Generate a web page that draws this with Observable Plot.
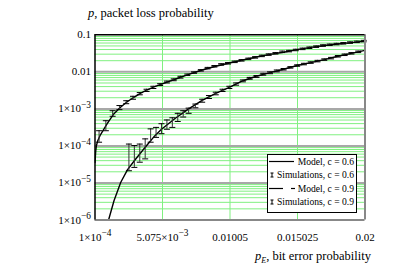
<!DOCTYPE html>
<html><head><meta charset="utf-8">
<script src="https://cdn.jsdelivr.net/npm/d3@7"></script>
<script src="https://cdn.jsdelivr.net/npm/@observablehq/plot@0.6"></script>
<style>body{margin:0;background:#fff} svg{display:block} svg text{font-family:'Liberation Serif','DejaVu Serif',serif !important}</style>
</head><body><div id="chart"></div>
<script>
const xTicks = [0.0001, 0.005075, 0.01005, 0.015025, 0.02];
const xTickLabels = ["1×10^−4", "5.075×10^−3", "0.01005", "0.015025", "0.02"];
const yTicks = [1e-6, 1e-5, 1e-4, 1e-3, 0.01, 0.1];
const yTickLabels = ["1×10^−6", "1×10^−5", "1×10^−4", "1×10^−3", "0.01", "0.1"];

// Model, c = 0.6 (log10 p)
const modelPE06 = [0.0001,0.00015,0.0002,0.0003,0.0005,0.001,0.0015,0.002,0.0025,0.003,0.0035,0.004,0.0045,0.005,0.006,0.007,0.008,0.009,0.010,0.011,0.012,0.013,0.014,0.015,0.016,0.017,0.018,0.019,0.020];
const modelLog06 = [-4.45,-4.15,-4.00,-3.86,-3.70,-3.40,-3.13,-2.95,-2.80,-2.68,-2.57,-2.48,-2.40,-2.33,-2.20,-2.07,-1.95,-1.85,-1.76,-1.68,-1.60,-1.53,-1.47,-1.40,-1.34,-1.29,-1.25,-1.21,-1.17];

// Model, c = 0.9 (log10 p)
const modelPE09 = [0.00095,0.0011,0.0015,0.002,0.0025,0.003,0.0035,0.004,0.0045,0.005,0.006,0.007,0.008,0.009,0.010,0.011,0.012,0.013,0.014,0.015,0.016,0.017,0.018,0.019,0.020];
const modelLog09 = [-6.25,-6.00,-5.48,-4.98,-4.64,-4.40,-4.17,-3.95,-3.73,-3.55,-3.26,-3.00,-2.77,-2.58,-2.42,-2.24,-2.12,-2.02,-1.93,-1.83,-1.75,-1.67,-1.58,-1.50,-1.42];

// Simulations, c = 0.6 (log10 bounds)
const simPE06 = [0.0004,0.0009,0.0014,0.0019,0.0024,0.0029,0.0034,0.0039,0.0044,0.0049,0.0054,0.0059,0.0064,0.0069,0.0074,0.0079,0.0084,0.0089,0.0094,0.0099,0.0104,0.0109,0.0114,0.0119,0.0124,0.0129,0.0134,0.0139,0.0144,0.0149,0.0154,0.0159,0.0164,0.0169,0.0174,0.0179,0.0184,0.0189,0.0194,0.0199];
const simLo06 = [-3.90,-3.59,-3.20,-3.02,-2.86,-2.74,-2.62,-2.53,-2.45,-2.37,-2.30,-2.24,-2.17,-2.10,-2.04,-1.98,-1.92,-1.87,-1.82,-1.79,-1.75,-1.71,-1.67,-1.63,-1.59,-1.555,-1.52,-1.48,-1.46,-1.43,-1.40,-1.37,-1.34,-1.31,-1.29,-1.27,-1.25,-1.23,-1.21,-1.19];
const simHi06 = [-3.59,-3.32,-3.05,-2.91,-2.78,-2.66,-2.56,-2.47,-2.39,-2.32,-2.25,-2.19,-2.12,-2.06,-2.00,-1.94,-1.88,-1.83,-1.78,-1.75,-1.71,-1.67,-1.63,-1.59,-1.55,-1.515,-1.48,-1.44,-1.42,-1.39,-1.36,-1.33,-1.30,-1.27,-1.25,-1.23,-1.21,-1.19,-1.17,-1.15];

// Simulations, c = 0.9 (log10 bounds)
const simPE09 = [0.0026,0.0030,0.0034,0.0038,0.0042,0.0046,0.0050,0.0054,0.0058,0.0062,0.0066,0.0070,0.0075,0.0080,0.0085,0.0090,0.0095,0.0100,0.0105,0.0110,0.0115,0.0120,0.0125,0.0130,0.0135,0.0140,0.0145,0.0150,0.0155,0.0160,0.0165,0.0170,0.0175,0.0180,0.0185,0.0190,0.0195];
const simLo09 = [-4.67,-4.58,-4.44,-4.35,-3.90,-3.77,-3.67,-3.55,-3.50,-3.34,-3.22,-3.12,-2.97,-2.82,-2.72,-2.62,-2.53,-2.45,-2.36,-2.27,-2.20,-2.15,-2.09,-2.05,-2.00,-1.95,-1.90,-1.85,-1.81,-1.77,-1.73,-1.69,-1.65,-1.60,-1.56,-1.52,-1.48];
const simHi09 = [-3.95,-3.99,-3.95,-3.81,-3.54,-3.50,-3.40,-3.30,-3.24,-3.12,-3.05,-2.98,-2.87,-2.74,-2.64,-2.55,-2.47,-2.39,-2.30,-2.22,-2.15,-2.10,-2.04,-2.00,-1.95,-1.91,-1.86,-1.81,-1.77,-1.73,-1.69,-1.65,-1.61,-1.56,-1.52,-1.48,-1.44];

const model06 = modelPE06.map((x, i) => ({x, y: 10 ** modelLog06[i]}));
const model09 = modelPE09.map((x, i) => ({x, y: 10 ** modelLog09[i]}));
const sim06 = simPE06.map((x, i) => ({x, lo: 10 ** simLo06[i], hi: 10 ** simHi06[i]}));
const sim09 = simPE09.map((x, i) => ({x, lo: 10 ** simLo09[i], hi: 10 ** simHi09[i]}));

const minorY = [];
for (const d of yTicks.slice(0, -1)) for (let m = 2; m <= 9; m++) minorY.push(d * m);

const capSymbol = {draw(ctx, size) { const h = Math.sqrt(size / Math.PI); ctx.moveTo(-h, 0); ctx.lineTo(h, 0); }};

const xLab = new Map(xTicks.map((d, i) => [d, xTickLabels[i]]));
const yLab = new Map(yTicks.map((d, i) => [d, yTickLabels[i]]));

const FONT = "'Liberation Serif', 'DejaVu Serif', serif";
const green = "#80f080";

const errMarks = (data) => [
  Plot.ruleX(data, {x: "x", y1: "lo", y2: "hi", stroke: "#333", strokeWidth: 1}),
  Plot.dot(data, {x: "x", y: "lo", symbol: capSymbol, r: 3, stroke: "#000", strokeWidth: 1, fill: "none"}),
  Plot.dot(data, {x: "x", y: "hi", symbol: capSymbol, r: 3, stroke: "#000", strokeWidth: 1, fill: "none"})
];

const chart = Plot.plot({
  width: 415, height: 273,
  marginLeft: 94.5, marginRight: 50.5, marginTop: 34.3, marginBottom: 53.5,
  style: {fontFamily: FONT, background: "#fff"},
  x: {domain: [0.0001, 0.02], label: null},
  y: {type: "log", domain: [1e-6, 0.1], label: null},
  marks: [
    Plot.ruleY(minorY, {stroke: green, strokeWidth: 1}),
    Plot.ruleX(xTicks.slice(1, -1), {stroke: green, strokeWidth: 1}),
    Plot.ruleY(yTicks.slice(1, -1), {stroke: "#a8a8a8", strokeWidth: 2}),
    Plot.line(model06, {x: "x", y: "y", stroke: "#000", strokeWidth: 1.4, clip: true}),
    Plot.line(model09, {x: "x", y: "y", stroke: "#000", strokeWidth: 1.4, clip: true}),
    ...errMarks(sim06),
    ...errMarks(sim09),
    Plot.ruleY([1e-6], {stroke: "#888", strokeWidth: 2}),
    Plot.ruleX([0.02], {stroke: "#888", strokeWidth: 2}),
    Plot.ruleY([0.1], {stroke: "#000", strokeWidth: 1.5}),
    Plot.ruleX([0.0001], {stroke: "#000", strokeWidth: 1.5}),
    Plot.axisX({ticks: xTicks, tickFormat: d => xLab.get(d), tickSize: 0, tickPadding: 13, fontSize: 11, fill: "#000"}),
    Plot.axisY({ticks: yTicks, tickFormat: d => yLab.get(d), tickSize: 0, tickPadding: 4, fontSize: 11, fill: "#000"})
  ]
});

document.getElementById("chart").appendChild(chart);
const NS = "http://www.w3.org/2000/svg";
chart.querySelectorAll("text").forEach(t => {
  const s = t.textContent;
  if (s.includes("^")) {
    const [b, e] = s.split("^");
    t.textContent = b;
    const ts = document.createElementNS(NS, "tspan");
    ts.setAttribute("dy", "-0.5em");
    ts.setAttribute("font-size", "0.85em");
    ts.textContent = e;
    t.appendChild(ts);
  }
});

const svg = d3.select(chart);
// titles
const t1 = svg.append("text").attr("x", 88).attr("y", 17).attr("text-anchor", "start").attr("font-size", 12.5).attr("fill", "#000");
t1.append("tspan").attr("font-style", "italic").text("p");
t1.append("tspan").text(", packet loss probability");
const t2 = svg.append("text").attr("x", 255).attr("y", 260).attr("text-anchor", "start").attr("font-size", 12.5).attr("fill", "#000");
t2.append("tspan").attr("font-style", "italic").text("p");
t2.append("tspan").attr("font-size", 8).attr("font-style", "italic").attr("dy", 2.5).text("E");
t2.append("tspan").attr("dy", -2.5).text(", bit error probability");

// legend
const lg = svg.append("g").attr("font-size", 9.6);
lg.append("rect").attr("x", 267.5).attr("y", 154.5).attr("width", 89).attr("height", 58).attr("fill", "#fff").attr("stroke", "#000").attr("stroke-width", 1);
const rows = [
  {label: "Model, c = 0.6", kind: "solid", y: 161.5},
  {label: "Simulations, c = 0.6", kind: "err", y: 175},
  {label: "Model, c = 0.9", kind: "dash", y: 188.5},
  {label: "Simulations, c = 0.9", kind: "err", y: 202}
];
for (const r of rows) {
  lg.append("text").attr("x", 354).attr("y", r.y).attr("dy", "0.35em").attr("text-anchor", "end").attr("fill", "#000").text(r.label);
  if (r.kind === "solid") {
    lg.append("line").attr("x1", 269).attr("x2", 294).attr("y1", r.y).attr("y2", r.y).attr("stroke", "#000").attr("stroke-width", 1.2);
  } else if (r.kind === "dash") {
    lg.append("line").attr("x1", 269).attr("x2", 283).attr("y1", r.y).attr("y2", r.y).attr("stroke", "#000").attr("stroke-width", 1.2);
    lg.append("line").attr("x1", 291).attr("x2", 295).attr("y1", r.y).attr("y2", r.y).attr("stroke", "#000").attr("stroke-width", 1.2);
  } else {
    lg.append("path").attr("d", `M270.5,${r.y - 2}H273.5M272,${r.y - 2}V${r.y + 2}M270.5,${r.y + 2}H273.5`).attr("stroke", "#000").attr("fill", "none").attr("stroke-width", 1);
  }
}
</script></body></html>
